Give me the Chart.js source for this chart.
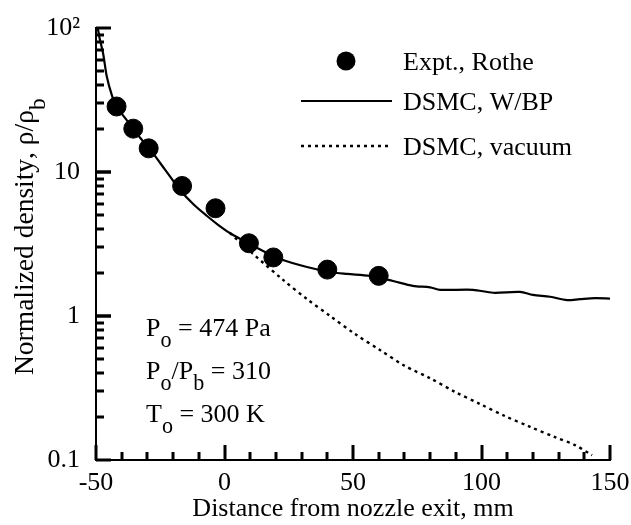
<!DOCTYPE html>
<html>
<head>
<meta charset="utf-8">
<script src="https://cdn.jsdelivr.net/npm/chart.js@4.4.1/dist/chart.umd.min.js"></script>
<style>
  html, body { margin: 0; padding: 0; background: #fff; }
  canvas { display: block; }
</style>
</head>
<body>
<canvas id="densityChart" width="631" height="525"></canvas>
<script>
  // Expt., Rothe
  const exptX = [-42, -35.5, -29.5, -16.5, -3.5, 9.5, 19, 40, 60]
  const exptY = [28.5, 20, 14.6, 8.0, 5.6, 3.2, 2.55, 2.1, 1.9]

  // DSMC with back pressure
  const bpX = [-49.3, -48.6, -47.2, -45.8, -43.9, -42, -38.5, -35.5, -32.5, -29.4, -23, -17.3, -12, -6.8, -2.5, 2.1, 9.1,
    15, 21.6, 32.1, 41.1, 47.7, 56.6, 65.6, 73.3, 80, 83.9, 96.7, 104.5, 115, 120, 126.7, 133.3, 138.3, 144.2, 150]
  const bpY = [100, 85, 66, 46, 34.5, 28.5, 23.5, 20, 17, 14.7, 10.3, 7.5, 5.95, 4.95, 4.3, 3.77, 3.21,
    2.83, 2.49, 2.19, 2.02, 1.96, 1.9, 1.75, 1.62, 1.58, 1.52, 1.52, 1.45, 1.47, 1.4, 1.36, 1.29, 1.31, 1.33, 1.32]

  // DSMC into vacuum (splits off the W/BP curve near the exit)
  const vacX = [2.1, 10.7, 22.8, 32.1, 41.1, 50.8, 60.5, 70.2, 80, 89.7, 99.4, 109.1, 118.9, 128.6, 136.4, 143]
  const vacY = [3.77, 2.74, 1.78, 1.31, 1.0, 0.75, 0.58, 0.45, 0.37, 0.297, 0.245, 0.202, 0.17, 0.144, 0.127, 0.108]

  const xTicks = [-50, 0, 50, 100, 150]
  const yTicks = [0.1, 1, 10, 100]
  const yTickLabels = ['0.1', '1', '10', '10²']
  const legendLabels = ['Expt., Rothe', 'DSMC, W/BP', 'DSMC, vacuum']
  const conditions = ['P_o = 474 Pa', 'P_o/P_b = 310', 'T_o = 300 K']
  const yTitle = 'Normalized density, ρ/ρ_b'

  const FONT = "'Liberation Serif', 'Times New Roman', serif"
  const toPts = (xs, ys) => xs.map((x, i) => ({ x, y: ys[i] }))

  // text with "_c" meaning subscript c
  function drawRich(ctx, str, x, y, size) {
    let cx = x
    for (let i = 0; i < str.length; i++) {
      const sub = str[i] === '_'
      if (sub) i++
      ctx.font = `${sub ? size * 0.85 : size}px ${FONT}`
      ctx.fillText(str[i], cx, sub ? y + size * 0.42 : y)
      cx += ctx.measureText(str[i]).width
    }
  }

  const decorations = {
    id: 'decorations',
    afterDraw(chart) {
      const ctx = chart.ctx
      const a = chart.chartArea
      const x = chart.scales.x
      const y = chart.scales.y
      const ds = chart.data.datasets
      ctx.save()
      ctx.setLineDash([])
      ctx.fillStyle = '#000'

      // inward ticks, minor every 10 mm and at 2..9 of each decade
      for (let v = -50; v <= 150; v += 10) {
        const px = Math.round(x.getPixelForValue(v))
        const len = v % 50 === 0 ? 15 : 8
        ctx.fillRect(px - 1.5, a.bottom - len, 3, len)
      }
      for (const d of [0.1, 1, 10]) {
        for (let k = 1; k <= 10; k++) {
          const py = Math.round(y.getPixelForValue(d * k))
          const len = (k === 1 || k === 10) ? 15 : 8
          ctx.fillRect(a.left, py - 1.5, len, 3)
        }
      }

      // legend
      ctx.strokeStyle = '#000'
      ctx.textBaseline = 'alphabetic'
      ctx.textAlign = 'left'
      ctx.font = `26px ${FONT}`
      const rows = [61, 101, 146]
      ctx.beginPath()
      ctx.arc(346, rows[0], ds[0].pointRadius, 0, Math.PI * 2)
      ctx.fill()
      for (let i = 1; i < 3; i++) {
        ctx.beginPath()
        ctx.lineWidth = ds[i].borderWidth
        ctx.setLineDash(ds[i].borderDash || [])
        ctx.moveTo(301, rows[i])
        ctx.lineTo(392, rows[i])
        ctx.stroke()
      }
      ctx.setLineDash([])
      legendLabels.forEach((t, i) => ctx.fillText(t, 403, rows[i] + 9))

      // run conditions
      conditions.forEach((t, i) => drawRich(ctx, t, 146, 336 + i * 43, 26))

      // y-axis title
      ctx.save()
      ctx.translate(33, 375)
      ctx.rotate(-Math.PI / 2)
      drawRich(ctx, yTitle, 0, 0, 27.5)
      ctx.restore()

      ctx.restore()
    }
  }

  new Chart(document.getElementById('densityChart'), {
    type: 'scatter',
    data: {
      datasets: [{
        label: legendLabels[0],
        data: toPts(exptX, exptY),
        pointRadius: 9.5,
        pointHoverRadius: 9.5,
        pointBackgroundColor: '#000',
        pointBorderColor: '#000',
        showLine: false
      }, {
        label: legendLabels[1],
        data: toPts(bpX, bpY),
        showLine: true,
        borderColor: '#000',
        borderWidth: 2.2,
        pointRadius: 0,
        tension: 0.3
      }, {
        label: legendLabels[2],
        data: toPts(vacX, vacY),
        showLine: true,
        borderColor: '#000',
        borderWidth: 2.4,
        borderDash: [3, 4],
        pointRadius: 0,
        tension: 0.3
      }]
    },
    options: {
      responsive: false,
      animation: false,
      devicePixelRatio: 1,
      layout: { padding: { top: 28, right: 21, left: 0, bottom: 0 } },
      plugins: {
        legend: { display: false },
        tooltip: { enabled: false }
      },
      scales: {
        x: {
          type: 'linear',
          min: -50,
          max: 150,
          afterBuildTicks: s => { s.ticks = xTicks.map(v => ({ value: v })) },
          afterFit: s => {
            s.height = 65
            s.paddingLeft = 0
            s.paddingRight = 0
          },
          grid: { display: false, drawTicks: false },
          border: { display: true, color: '#000', width: 2 },
          ticks: {
            autoSkip: false,
            maxRotation: 0,
            padding: 8,
            color: '#000',
            font: { family: FONT, size: 26 }
          },
          title: {
            display: true,
            text: 'Distance from nozzle exit, mm',
            color: '#000',
            font: { family: FONT, size: 26 },
            padding: { top: 0, bottom: 0 }
          }
        },
        y: {
          type: 'logarithmic',
          min: 0.1,
          max: 100,
          afterBuildTicks: s => { s.ticks = yTicks.map(v => ({ value: v })) },
          afterFit: s => {
            s.width = 96
            s.paddingTop = 0
            s.paddingBottom = 0
          },
          grid: { display: false, drawTicks: false },
          border: { display: true, color: '#000', width: 2 },
          ticks: {
            autoSkip: false,
            padding: 16,
            color: '#000',
            font: { family: FONT, size: 26 },
            callback: v => yTickLabels[yTicks.indexOf(v)]
          }
        }
      }
    },
    plugins: [decorations]
  })
</script>
</body>
</html>
